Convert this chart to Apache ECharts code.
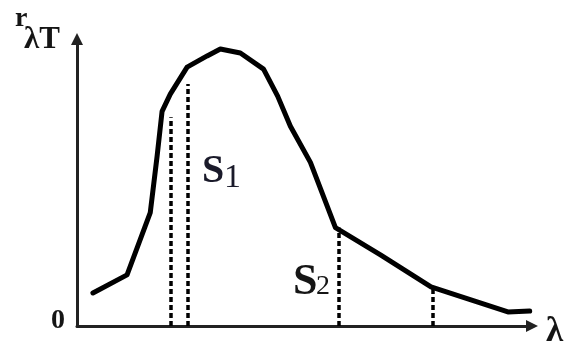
<!DOCTYPE html>
<html>
<head>
<meta charset="utf-8">
<style>
  html, body { margin: 0; padding: 0; background: #fff; }
  #chart { width: 574px; height: 355px; }
</style>
<script src="https://cdn.jsdelivr.net/npm/echarts@6/dist/echarts.min.js"></script>
</head>
<body>
<div id="chart"></div>
<script>
// Curve of spectral radiance r(λ,T) (arbitrary units, 0..100)
const curveX = [3.5, 11.0, 16.1, 17.6, 18.7, 20.5, 24.2, 28.6, 31.5, 35.9, 41.0, 44.1, 46.9, 51.3, 56.8, 66.7, 77.8, 94.7, 99.5];
const curveY = [11.5, 17.8, 39.5, 59.1, 74.8, 80.8, 90.2, 94.1, 96.5, 95.1, 89.5, 80.1, 69.6, 57.0, 34.3, 24.8, 13.6, 4.9, 5.2];
// Vertical dotted boundaries of areas S1 and S2
const boundX = [20.7, 24.4, 57.5, 78.2];
const boundTop = [72.7, 84.3, 34.3, 13.3];
// Texts
const yAxisName = ['r', 'λT'];
const xAxisName = 'λ';
const originLabel = '0';
const areaLabels = [['S', '1'], ['S', '2']];

const chart = echarts.init(document.getElementById('chart'), null, { renderer: 'canvas' });

const serif = '"Liberation Serif", "Times New Roman", serif';
const ink = '#151515';

function txt(text, left, top, size, weight, fill) {
  return { type: 'text', left: left, top: top,
    style: { text: text, font: weight + ' ' + size + 'px ' + serif, fill: fill || ink } };
}

chart.setOption({
  animation: false,
  backgroundColor: '#fff',
  grid: { left: 77, right: 42, top: 39, bottom: 29 },
  xAxis: {
    type: 'value', min: 0, max: 100,
    axisLine: { show: true, onZero: false, lineStyle: { color: '#222', width: 3 },
      symbol: ['none', 'triangle'], symbolSize: [12, 12] },
    axisTick: { show: false }, axisLabel: { show: false }, splitLine: { show: false }
  },
  yAxis: {
    type: 'value', min: 0, max: 100,
    axisLine: { show: true, onZero: false, lineStyle: { color: '#222', width: 3 },
      symbol: ['none', 'triangle'], symbolSize: [12, 12] },
    axisTick: { show: false }, axisLabel: { show: false }, splitLine: { show: false }
  },
  series: [
    {
      type: 'custom',
      data: boundX.map((x, i) => [x, boundTop[i]]),
      renderItem: function (params, api) {
        const p0 = api.coord([api.value(0), 0]);
        const p1 = api.coord([api.value(0), api.value(1)]);
        const x = Math.round(p0[0]);
        return {
          type: 'line',
          shape: { x1: x, y1: p0[1], x2: x, y2: p1[1] },
          style: { stroke: '#000', lineWidth: 3.5, lineDash: [5, 3], lineCap: 'butt' }
        };
      },
      z: 3
    },
    {
      type: 'line',
      data: curveX.map((x, i) => [x, curveY[i]]),
      symbol: 'none',
      smooth: false,
      lineStyle: { color: '#000', width: 5, join: 'round', cap: 'round' },
      z: 5
    }
  ],
  graphic: [
    txt(yAxisName[0], 15, 5, 28, 'bold'),
    txt(yAxisName[1], 24, 24, 31, 'bold'),
    txt(originLabel, 51, 307, 28, 'bold'),
    txt(xAxisName, 546, 314, 35, 'bold'),
    txt(areaLabels[0][0], 202, 152, 40, 'bold', '#1a1a2a'),
    txt(areaLabels[0][1], 224, 161, 34, 'normal', '#1a1a2a'),
    txt(areaLabels[1][0], 293, 261, 44, 'bold'),
    txt(areaLabels[1][1], 316, 273, 28, 'normal')
  ]
});
</script>
</body>
</html>
